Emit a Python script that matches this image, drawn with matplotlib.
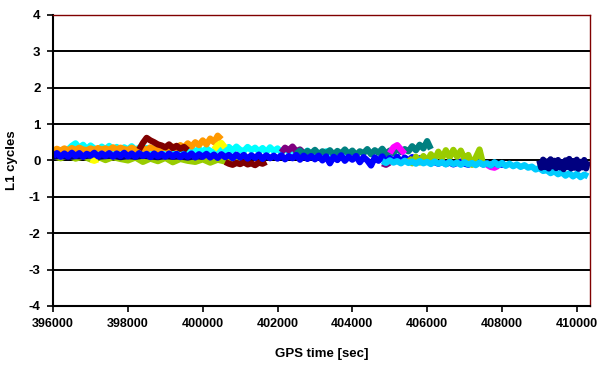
import numpy as np
import matplotlib
matplotlib.use("Agg")
import matplotlib.pyplot as plt

plt.rcParams['font.family'] = ['Liberation Sans', 'DejaVu Sans']
plt.rcParams['axes.unicode_minus'] = False

# each series: start time [s], sample step [s], L1 residuals [cycles]
yellowgreen1_start, yellowgreen1_step = 396000, 200
yellowgreen1 = [0.12, 0.06, 0.14, 0.05, 0.11, 0.03, 0.10, 0.01, 0.09, 0.04,
                0.00, 0.08, -0.04, 0.05, -0.02, 0.07, -0.05, 0.04, -0.01, -0.04,
                0.03, -0.06, 0.02, -0.03, 0.03, -0.02]

navy1_start, navy1_step = 396000, 200
navy1 = [0.10, 0.13, 0.09, 0.12, 0.11, 0.14, 0.10, 0.12, 0.13, 0.09,
         0.12, 0.10, 0.13, 0.11, 0.09, 0.12, 0.10, 0.11, 0.08, 0.12, 0.10]

cyan_start, cyan_step = 396400, 100
cyan = [0.30, 0.40, 0.47, 0.34, 0.43, 0.31, 0.41, 0.33, 0.29, 0.38,
        0.31, 0.40, 0.30, 0.37, 0.28, 0.36, 0.30, 0.39, 0.29, 0.35,
        0.28, 0.34, 0.27, 0.36, 0.29, 0.26, 0.34, 0.28, 0.25, 0.33,
        0.27, 0.34, 0.26, 0.32, 0.25, 0.31, 0.24, 0.33, 0.26, 0.23,
        0.30, 0.36, 0.25, 0.37, 0.27, 0.38, 0.29, 0.26, 0.37, 0.28,
        0.35, 0.25, 0.34, 0.23, 0.36, 0.26, 0.33, 0.22, 0.32, 0.24,
        0.30, 0.20, 0.29, 0.18, 0.27, 0.16, 0.26, 0.19, 0.15, 0.25,
        0.20, 0.13, 0.21, 0.14, 0.10]

orange_start, orange_step = 396000, 100
orange = [0.26, 0.32, 0.27, 0.33, 0.28, 0.34, 0.29, 0.35, 0.30, 0.28,
          0.33, 0.29, 0.34, 0.30, 0.33, 0.29, 0.36, 0.30, 0.35, 0.31,
          0.29, 0.35, 0.30, 0.28, 0.34, 0.29, 0.36, 0.31, 0.28, 0.33,
          0.36, 0.29, 0.38, 0.33, 0.42, 0.36, 0.47, 0.38, 0.50, 0.42,
          0.55, 0.44, 0.60, 0.50, 0.68, 0.58]

darkred1_start, darkred1_step = 398300, 100
darkred1 = [0.30, 0.48, 0.62, 0.55, 0.50, 0.44, 0.41, 0.36, 0.44, 0.34,
            0.40, 0.32, 0.37, 0.28]

darkred2_start, darkred2_step = 400600, 100
darkred2 = [-0.04, -0.09, -0.12, -0.07, -0.10, -0.05, -0.11, -0.08, -0.13,
            -0.06, -0.09, -0.04]

yellow1_start, yellow1_step = 400300, 100
yellow1 = [0.30, 0.42, 0.48, 0.35]
yellow2_start, yellow2_step = 397000, 100
yellow2 = [0.02, -0.01, 0.03]

purple1_start, purple1_step = 402100, 100
purple1 = [0.22, 0.35, 0.28, 0.38, 0.25, 0.30, 0.20]
purple2_start, purple2_step = 404800, 100
purple2 = [-0.08, -0.12, -0.06]

teal_start, teal_step = 402500, 100
teal = [0.18, 0.27, 0.16, 0.26, 0.19, 0.29, 0.17, 0.25, 0.20, 0.28,
        0.16, 0.26, 0.19, 0.30, 0.18, 0.27, 0.15, 0.25, 0.20, 0.31,
        0.17, 0.28, 0.21, 0.32, 0.18, 0.27, 0.20, 0.35, 0.23, 0.31,
        0.25, 0.39, 0.28, 0.43, 0.33, 0.53, 0.31]

magenta1_start, magenta1_step = 405000, 100
magenta1 = [0.20, 0.36, 0.42, 0.30, 0.18]
magenta2_start, magenta2_step = 407600, 100
magenta2 = [-0.12, -0.18, -0.20, -0.15]

blue1_start, blue1_step = 396000, 100
blue1 = [0.12, 0.20, 0.10, 0.19, 0.11, 0.21, 0.12, 0.20, 0.10, 0.18,
         0.13, 0.21, 0.11, 0.19, 0.12, 0.20, 0.10, 0.19, 0.12, 0.21,
         0.11, 0.19, 0.10, 0.20, 0.12, 0.18, 0.09, 0.19, 0.11, 0.18,
         0.10, 0.19, 0.11, 0.18, 0.09, 0.17, 0.10, 0.19, 0.08, 0.17,
         0.10, 0.18, 0.08, 0.16, 0.07, 0.17, 0.09, 0.15, 0.06, 0.16,
         0.08, 0.15, 0.05, 0.14, 0.07, 0.16, 0.04, 0.14, 0.06, 0.13,
         0.05, 0.14, 0.03, 0.12, 0.06, 0.15, 0.02, 0.13, 0.04, 0.12,
         0.03, 0.13, 0.00, 0.11, -0.08, 0.10, 0.01, 0.14, -0.01, 0.10,
         0.02, 0.12, -0.05, 0.09, 0.00, -0.14, 0.08, -0.01, 0.11, -0.04,
         0.07, -0.02, 0.10, -0.06, 0.08, -0.01, 0.09, -0.04, 0.06, -0.02,
         0.02]

blue2_start, blue2_step = 406200, 100
blue2 = [-0.05, -0.09, -0.04, -0.10, -0.06, -0.11, -0.07, -0.03, -0.09, -0.12,
         -0.06, -0.10, -0.05, -0.11, -0.08, -0.13, -0.07, -0.10, -0.12, -0.08]

yellowgreen2_start, yellowgreen2_step = 405500, 100
yellowgreen2 = [0.08, -0.08, 0.10, -0.06, 0.12, -0.02, 0.17, 0.02, 0.24, 0.06,
                0.28, 0.08, 0.29, 0.10, 0.27, 0.04, 0.15, -0.12, 0.08, 0.30,
                -0.12]

skyblue_start, skyblue_step = 404800, 100
skyblue = [-0.02, -0.07, 0.00, -0.06, -0.02, -0.08, -0.01, -0.07, -0.03, -0.09,
           -0.02, -0.08, -0.04, -0.10, -0.03, -0.09, -0.05, -0.11, -0.04, -0.10,
           -0.06, -0.12, -0.05, -0.11, -0.07, -0.13, -0.06, -0.12, -0.08, -0.14,
           -0.05, -0.13, -0.07, -0.15, -0.09, -0.16, -0.11, -0.18, -0.13, -0.20,
           -0.17, -0.25, -0.21, -0.29, -0.27, -0.35, -0.30, -0.38, -0.33, -0.42,
           -0.35, -0.44, -0.37, -0.46, -0.39, -0.44]

navy2_start, navy2_step = 409000, 50
navy2 = [0.00, -0.20, 0.02, -0.18, -0.03, -0.22, 0.03, -0.16, -0.01, -0.21,
         0.01, -0.19, -0.05, -0.24, 0.00, -0.18, 0.04, -0.22, -0.02, -0.20,
         0.02, -0.23, -0.04, -0.19, 0.01, -0.22, -0.02]

series = [
    (yellowgreen1_start, yellowgreen1_step, yellowgreen1, '#99CC00'),
    (navy1_start, navy1_step, navy1, '#000080'),
    (cyan_start, cyan_step, cyan, '#00FFFF'),
    (orange_start, orange_step, orange, '#FF9900'),
    (darkred1_start, darkred1_step, darkred1, '#800000'),
    (darkred2_start, darkred2_step, darkred2, '#800000'),
    (yellow1_start, yellow1_step, yellow1, '#FFFF00'),
    (yellow2_start, yellow2_step, yellow2, '#FFFF00'),
    (purple1_start, purple1_step, purple1, '#800080'),
    (purple2_start, purple2_step, purple2, '#800080'),
    (teal_start, teal_step, teal, '#008080'),
    (magenta1_start, magenta1_step, magenta1, '#FF00FF'),
    (magenta2_start, magenta2_step, magenta2, '#FF00FF'),
    (blue1_start, blue1_step, blue1, '#0000FF'),
    (blue2_start, blue2_step, blue2, '#0000FF'),
    (yellowgreen2_start, yellowgreen2_step, yellowgreen2, '#99CC00'),
    (skyblue_start, skyblue_step, skyblue, '#00CCFF'),
    (navy2_start, navy2_step, navy2, '#000080'),
]

fig = plt.figure(figsize=(5.97, 3.65), dpi=100)
ax = fig.add_axes([0.089, 0.162, 0.899, 0.797])

for start, step, vals, col in series:
    t = start + step * np.arange(len(vals))
    ax.plot(t, vals, color=col, lw=4.5, solid_joinstyle='round',
            solid_capstyle='butt')

ax.set_xlim(396000, 410350)
ax.set_ylim(-4, 4)
ax.set_xticks(np.arange(396000, 410001, 2000))
ax.set_yticks(np.arange(-4, 5, 1))
ax.yaxis.grid(True, color='black', lw=1.4)
ax.set_axisbelow(True)

for lab in ax.get_xticklabels():
    lab.set_fontweight('bold')
    lab.set_fontsize(9)
for lab in ax.get_yticklabels():
    lab.set_fontweight('bold')
    lab.set_fontsize(9.5)
ax.tick_params(direction='out', length=4, width=1.2, color='black', pad=5)

for s in ['left', 'bottom']:
    ax.spines[s].set_linewidth(1.5)
    ax.spines[s].set_color('black')
for s in ['top', 'right']:
    ax.spines[s].set_linewidth(1.0)
    ax.spines[s].set_color('#800000')

ax.set_xlabel('GPS time [sec]', fontsize=9.5, fontweight='bold', labelpad=13)
ax.set_ylabel('L1 cycles', fontsize=9.5, fontweight='bold', labelpad=8)

fig.savefig('out.png', dpi=100)
